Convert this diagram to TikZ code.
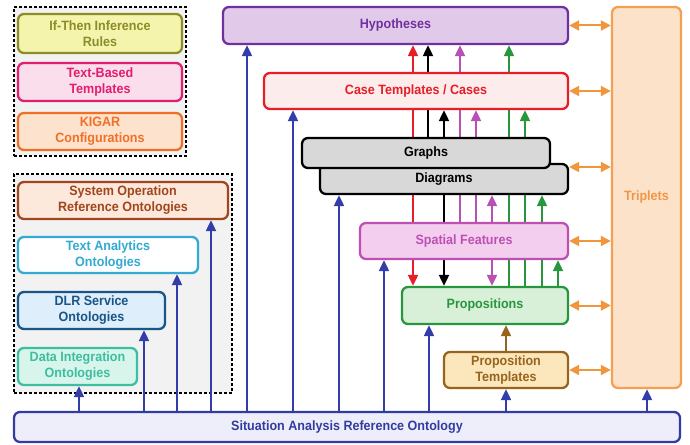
\documentclass[tikz,border=0pt]{standalone}
\usepackage{fontspec}
\setmainfont{Liberation Sans}[FakeStretch=0.93]
\usetikzlibrary{arrows.meta}

% palette
\definecolor{cOlive}{RGB}{140,140,40}   \definecolor{cOliveF}{RGB}{244,244,172}
\definecolor{cPink}{RGB}{226,30,110}    \definecolor{cPinkF}{RGB}{250,222,236}
\definecolor{cKig}{RGB}{240,112,40}     \definecolor{cKigF}{RGB}{253,226,206}
\definecolor{cSys}{RGB}{160,70,30}      \definecolor{cSysF}{RGB}{253,233,220}
\definecolor{cTxt}{RGB}{50,170,210}     \definecolor{cTxtF}{RGB}{255,255,255}
\definecolor{cDlr}{RGB}{25,85,135}      \definecolor{cDlrF}{RGB}{222,238,250}
\definecolor{cDin}{RGB}{60,190,160}     \definecolor{cDinF}{RGB}{216,245,235}
\definecolor{cHyp}{RGB}{112,48,160}     \definecolor{cHypF}{RGB}{225,202,233}
\definecolor{cCase}{RGB}{230,30,40}     \definecolor{cCaseF}{RGB}{253,236,236}
\definecolor{cGray}{RGB}{216,216,216}
\definecolor{cSpat}{RGB}{190,80,180}    \definecolor{cSpatF}{RGB}{243,206,238}
\definecolor{cProp}{RGB}{40,150,60}     \definecolor{cPropF}{RGB}{216,240,216}
\definecolor{cPtpl}{RGB}{150,100,30}    \definecolor{cPtplF}{RGB}{252,231,188}
\definecolor{cTrip}{RGB}{244,160,80}    \definecolor{cTripF}{RGB}{253,226,202}
\definecolor{cTripT}{RGB}{240,150,70}
\definecolor{cSaro}{RGB}{50,60,160}     \definecolor{cSaroF}{RGB}{238,238,250}
\definecolor{cBlue}{RGB}{50,60,170}
\definecolor{cOrange}{RGB}{240,150,60}
\definecolor{cMag}{RGB}{185,80,180}
\definecolor{cGreen}{RGB}{40,150,60}
\definecolor{cBrown}{RGB}{150,100,30}
\definecolor{cPanel}{RGB}{242,242,242}

\pgfdeclarelayer{bg}
\pgfdeclarelayer{mid}
\pgfsetlayers{bg,mid,main}

\tikzset{
  box/.style={draw, rounded corners=6pt, line width=2.3pt, align=center, inner sep=0pt,
    font=\fontsize{13.5}{16}\selectfont\bfseries},
  kind/.style n args={3}{box, draw=#1, fill=#2, text=#3},
  panel/.style={draw=black, dashed, dash pattern=on 3pt off 2pt, line width=1.2pt, fill=cPanel},
  uparr/.style={line width=2pt, draw=#1, -{Triangle[length=11pt,width=10pt,fill=#1]}},
  dblarr/.style={line width=2pt, draw=cOrange,
    {Triangle[length=10pt,width=10pt]}-{Triangle[length=10pt,width=10pt]}},
}

% \placebox{name}{style}{x1}{y1}{x2}{y2}{text}
\newcommand\placebox[7]{%
  \node[#2, minimum width={(#5-#3)*1pt}, minimum height={(#6-#4)*1pt}]
    (#1) at ({(#3+#5)/2},{(#4+#6)/2}) {#7};}

\begin{document}
\begin{tikzpicture}[x=1pt, y=-1pt]
\useasboundingbox (0,0) rectangle (690,444);

% left-hand dashed panels
\begin{pgfonlayer}{bg}
  \node[panel, minimum width=172pt, minimum height=149pt, inner sep=0pt] (panelA) at (100,81.5) {};
  \node[panel, minimum width=218pt, minimum height=219pt, inner sep=0pt] (panelB) at (123,283.5) {};
\end{pgfonlayer}

% rule and template boxes
\placebox{rules}{kind={cOlive}{cOliveF}{cOlive}}{18}{14}{182}{53}{If-Then Inference\\Rules}
\placebox{ttpl}{kind={cPink}{cPinkF}{cPink}}{18}{63}{182}{101}{Text-Based\\Templates}
\placebox{kigar}{kind={cKig}{cKigF}{cKig}}{18}{113}{182}{150}{KIGAR\\Configurations}

% ontology boxes
\placebox{sysop}{kind={cSys}{cSysF}{cSys}}{18}{182}{228}{219}{System Operation\\Reference Ontologies}
\placebox{tana}{kind={cTxt}{cTxtF}{cTxt}}{18}{237}{198}{273}{Text Analytics\\Ontologies}
\placebox{dlr}{kind={cDlr}{cDlrF}{cDlr}}{18}{292}{165}{329}{DLR Service\\Ontologies}
\placebox{dint}{kind={cDin}{cDinF}{cDin}}{18}{348}{137}{385}{Data Integration\\Ontologies}

% central stack
\placebox{hyp}{kind={cHyp}{cHypF}{cHyp}}{223}{7}{568}{44}{Hypotheses}
\placebox{case}{kind={cCase}{cCaseF}{cCase}}{264}{73}{568}{109}{Case Templates / Cases}
\placebox{diag}{kind={black}{cGray}{black}}{320}{164}{568}{194}{Diagrams}
\placebox{graphs}{kind={black}{cGray}{black}}{302}{138}{550}{168}{Graphs}
\placebox{spat}{kind={cSpat}{cSpatF}{cSpat}}{360}{223}{568}{259}{Spatial Features}
\placebox{prop}{kind={cProp}{cPropF}{cProp}}{402}{287}{568}{324}{Propositions}
\placebox{ptpl}{kind={cPtpl}{cPtplF}{cPtpl}}{444}{352}{568}{388}{Proposition\\Templates}
\placebox{trip}{kind={cTrip}{cTripF}{cTripT}}{612}{7}{681}{388}{Triplets}
\placebox{saro}{kind={cSaro}{cSaroF}{cSaro}}{14}{412}{680}{442}{Situation Analysis Reference Ontology}

% connectors run behind the boxes
\begin{pgfonlayer}{mid}
  % from the reference ontology upwards
  \foreach \cx/\tgt in {79/dint,144/dlr,177/tana,211/sysop,247/hyp,293/case,
                        339/diag,384/spat,429/prop,506/ptpl,647/trip}{
    \coordinate (col) at (\cx,0);
    \draw[uparr=cBlue] (saro.north -| col) -- (\tgt.south -| col);
  }
  % case templates
  \coordinate (cR) at (413,0);
  \draw[uparr=cCase] (case.north -| cR) -- (hyp.south -| cR);
  \draw[uparr=cCase] (case.south -| cR) -- (prop.north -| cR);
  % graphs / diagrams
  \coordinate (cK1) at (428,0);
  \coordinate (cK2) at (444,0);
  \draw[uparr=black] (graphs.north -| cK1) -- (hyp.south -| cK1);
  \draw[uparr=black] (graphs.north -| cK2) -- (case.south -| cK2);
  \draw[uparr=black] (diag.south -| cK2) -- (prop.north -| cK2);
  % spatial features
  \coordinate (cM1) at (460,0);
  \coordinate (cM2) at (476,0);
  \coordinate (cM3) at (492,0);
  \draw[uparr=cMag] (spat.north -| cM1) -- (hyp.south -| cM1);
  \draw[uparr=cMag] (spat.north -| cM2) -- (case.south -| cM2);
  \draw[uparr=cMag] (spat.north -| cM3) -- (diag.south -| cM3);
  \draw[uparr=cMag] (spat.south -| cM3) -- (prop.north -| cM3);
  % propositions
  \coordinate (cG1) at (509,0);
  \coordinate (cG2) at (525,0);
  \coordinate (cG3) at (542,0);
  \coordinate (cG4) at (558,0);
  \draw[uparr=cGreen] (prop.north -| cG1) -- (hyp.south -| cG1);
  \draw[uparr=cGreen] (prop.north -| cG2) -- (case.south -| cG2);
  \draw[uparr=cGreen] (prop.north -| cG3) -- (diag.south -| cG3);
  \draw[uparr=cGreen] (prop.north -| cG4) -- (spat.south -| cG4);
  % proposition templates
  \coordinate (cB) at (506,0);
  \draw[uparr=cBrown] (ptpl.north -| cB) -- (prop.south -| cB);
\end{pgfonlayer}

% links to the triplet store
\coordinate (rowD) at (0,167);
\draw[dblarr] (hyp.east) -- (trip.west |- hyp.east);
\draw[dblarr] (case.east) -- (trip.west |- case.east);
\draw[dblarr] (diag.east |- rowD) -- (trip.west |- rowD);
\draw[dblarr] (spat.east) -- (trip.west |- spat.east);
\draw[dblarr] (prop.east) -- (trip.west |- prop.east);
\draw[dblarr] (ptpl.east) -- (trip.west |- ptpl.east);
\end{tikzpicture}
\end{document}
